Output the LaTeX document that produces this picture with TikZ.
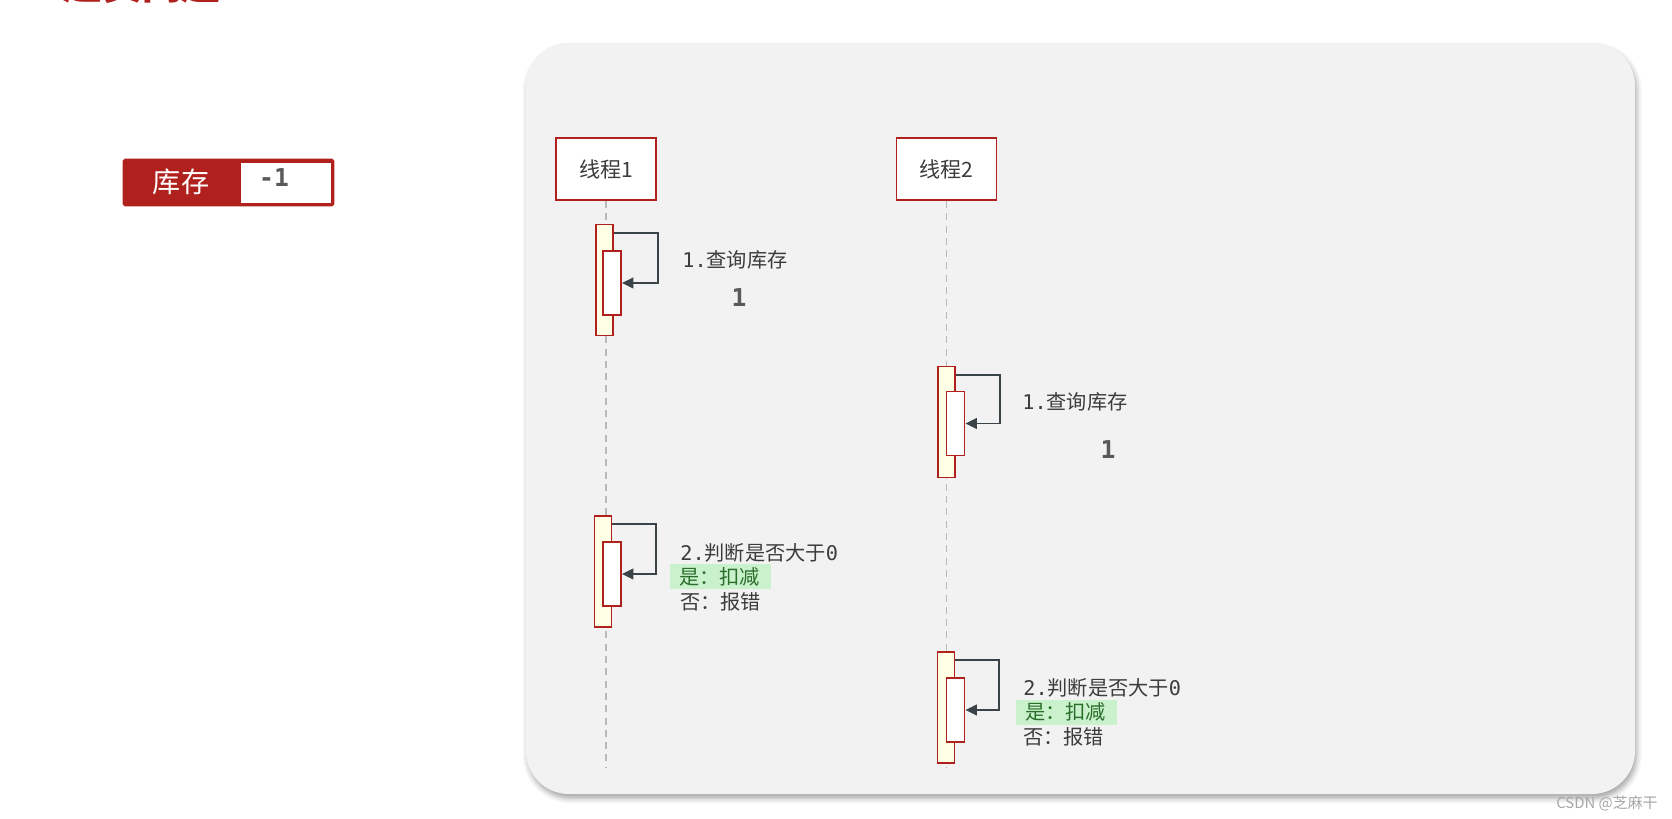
\documentclass[tikz,border=0pt]{standalone}
\usepackage{fontspec}
\setmainfont{Noto Sans CJK SC}
\newfontfamily\monofont{DejaVu Sans Mono}
\usepackage{xcolor}
\definecolor{boxRed}{HTML}{B0211E}
\definecolor{panelGray}{HTML}{F2F2F2}
\definecolor{actYellow}{HTML}{FFFFE6}
\definecolor{arrowDark}{HTML}{3A4347}
\definecolor{textGray}{HTML}{3C3C3C}
\definecolor{okGreen}{HTML}{C9F1CB}
\definecolor{okText}{HTML}{2B6E2B}
\usetikzlibrary{arrows.meta,calc,shadows.blur}

\tikzset{
  thread/.style={draw=boxRed, line width=1.1pt, fill=white, minimum width=2cm,
    minimum height=1.24cm, text=textGray, font=\fontsize{12}{14}\selectfont},
  lifeline/.style={draw=gray!55, dash pattern=on 4pt off 3pt, line width=0.7pt},
  actouter/.style={draw=boxRed, line width=1pt, fill=actYellow, inner sep=0pt,
    minimum width=0.34cm, minimum height=2.22cm},
  actinner/.style={draw=boxRed, line width=1pt, fill=white, inner sep=0pt,
    minimum width=0.36cm, minimum height=1.28cm},
  selfcall/.style={draw=arrowDark, line width=1.1pt, -{Triangle[length=6.5pt,width=6pt]}},
  msg/.style={anchor=west, inner sep=0pt, text=textGray, font=\fontsize{11.5}{13}\selectfont},
  result/.style={inner sep=0pt, text=textGray!85, font=\monofont\bfseries\fontsize{14}{16}\selectfont},
  yesline/.style={anchor=west, fill=okGreen, text=okText, inner xsep=0.18cm, inner ysep=0pt,
    minimum height=0.5cm, text width=1.66cm, align=left, font=\fontsize{11.5}{13}\selectfont},
}

\begin{document}
\begin{tikzpicture}[x=0.02cm, y=-0.02cm]
  \useasboundingbox (0,0) rectangle (1672,818);
  % title, cut off at the top edge
  \begin{scope}
    \clip (0,0) rectangle (1672,818);
    \node[anchor=base west, inner sep=0pt, text=boxRed, font=\bfseries\fontsize{22.5}{24}\selectfont] (title) at (63,-1) {超卖问题};
  \end{scope}
  % stock box
  \node[fill=boxRed, draw=boxRed, rounded corners=1pt, inner sep=0pt,
        minimum width=4.22cm, minimum height=0.94cm] (stock) at (228.5,182.5) {};
  \node[fill=white, inner sep=0pt, minimum width=1.8cm, minimum height=0.8cm] (stockval) at (286,183) {};
  \node[text=white, font=\fontsize{16}{18}\selectfont] (stocklabel) at (181,182) {库存};
  \node[result] (stocknum) at (274,178) {-1};
  % grey panel
  \fill[panelGray, rounded corners=0.86cm,
        blur shadow={shadow xshift=1pt, shadow yshift=-2.5pt, shadow blur radius=3pt, shadow opacity=35}]
    (526,43) rectangle (1635,794);
  % threads and lifelines
  \node[thread] (t1) at (606,169) {线程1};
  \node[thread] (t2) at (946.5,169) {线程2};
  \coordinate (t1end) at (606,768);
  \coordinate (t2end) at (946.5,768);
  \draw[lifeline] (t1) -- (t1end);
  \draw[lifeline] (t2) -- (t2end);
  % thread 1: query
  \node[actouter] (a1) at (604.5,280) {};
  \node[actinner] (a1in) at (612,283) {};
  \draw[selfcall] ($(a1.north east)+(0,9)$) -- ++(44,0) |- (a1in.east);
  \node[msg] (q1) at (682,260) {{\monofont 1.}查询库存};
  \node[result] (r1) at (739,298) {1};
  % thread 2: query
  \node[actouter] (b1) at (946.5,422) {};
  \node[actinner] (b1in) at (955.5,423.5) {};
  \draw[selfcall] ($(b1.north east)+(0,9)$) -- ++(44,0) |- (b1in.east);
  \node[msg] (q2) at (1022,402) {{\monofont 1.}查询库存};
  \node[result] (r2) at (1108,450) {1};
  % thread 1: check
  \node[actouter] (a2) at (603,571.5) {};
  \node[actinner] (a2in) at (612,574) {};
  \draw[selfcall] ($(a2.north east)+(0,9)$) -- ++(44,0) |- (a2in.east);
  \node[msg] (j1) at (680,553) {{\monofont 2.}判断是否大于{\monofont 0}};
  \node[yesline] (y1) at (670,576.5) {是：扣减};
  \node[msg] (n1) at (680,602) {否：报错};
  % thread 2: check
  \node[actouter] (b2) at (946,707.5) {};
  \node[actinner] (b2in) at (955.5,710) {};
  \draw[selfcall] ($(b2.north east)+(0,9)$) -- ++(44,0) |- (b2in.east);
  \node[msg] (j2) at (1023,688) {{\monofont 2.}判断是否大于{\monofont 0}};
  \node[yesline] (y2) at (1016,712) {是：扣减};
  \node[msg] (n2) at (1023,737) {否：报错};
  % watermark
  \node[anchor=east, inner sep=0pt, text=gray!70, font=\fontsize{8.5}{10}\selectfont] (mark) at (1658,803) {CSDN @芝麻干};
\end{tikzpicture}
\end{document}
